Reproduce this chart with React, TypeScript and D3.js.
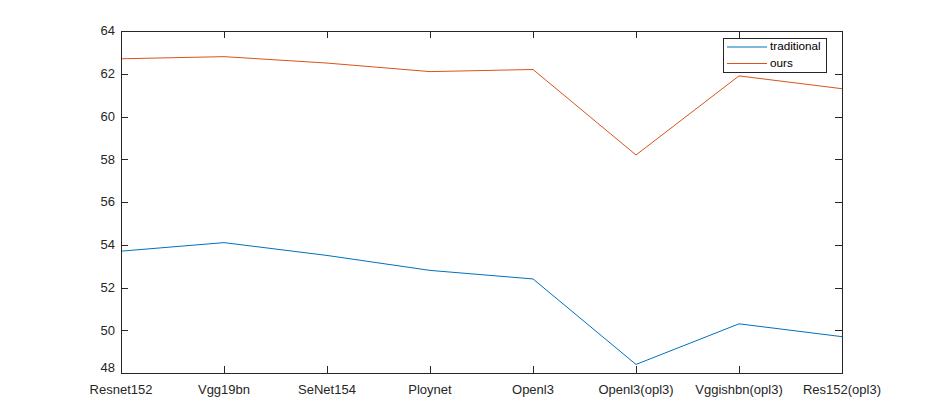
import { useRef, useEffect } from 'react';
import * as d3 from 'd3';

const categories = ['Resnet152', 'Vgg19bn', 'SeNet154', 'Ploynet', 'Openl3', 'Openl3(opl3)', 'Vggishbn(opl3)', 'Res152(opl3)'];
const traditional = [53.7, 54.1, 53.5, 52.8, 52.4, 48.4, 50.3, 49.7];
const ours = [62.7, 62.8, 62.5, 62.1, 62.2, 58.2, 61.9, 61.3];
const yTicks = [48, 50, 52, 54, 56, 58, 60, 62, 64];
const seriesNames = ['traditional', 'ours'];

const W = 931;
const H = 420;
const AX = '#262626';
const FONT = '"Liberation Sans", Arial, Helvetica, sans-serif';

const App = () => {
  const ref = useRef<SVGSVGElement>(null);

  useEffect(() => {
    document.body.style.margin = '0';
    const svg = d3.select(ref.current);
    svg.selectAll('*').remove();

    const left = 121, right = 842, top = 31, bottom = 373;

    const x = d3.scalePoint<string>().domain(categories).range([left, right]);
    const y = d3.scaleLinear().domain([48, 64]).range([bottom, top]);

    const g = svg.append('g');

    // series lines
    const line = d3.line<number>()
      .x((_, i) => x(categories[i]) as number)
      .y(d => y(d));

    const series = [
      { name: seriesNames[0], values: traditional, color: '#0072BD' },
      { name: seriesNames[1], values: ours, color: '#D95319' },
    ];

    series.forEach(s => {
      g.append('path')
        .datum(s.values)
        .attr('d', line)
        .attr('fill', 'none')
        .attr('stroke', s.color)
        .attr('stroke-width', 1);
    });

    // box
    g.append('rect')
      .attr('x', left + 0.5).attr('y', top + 0.5)
      .attr('width', right - left).attr('height', bottom - top)
      .attr('fill', 'none').attr('stroke', AX).attr('stroke-width', 1);

    const tickLen = 7;

    // x ticks (inward, bottom and top)
    categories.forEach(c => {
      const px = Math.round(x(c) as number) + 0.5;
      g.append('line').attr('x1', px).attr('x2', px)
        .attr('y1', bottom).attr('y2', bottom - tickLen)
        .attr('stroke', AX);
      g.append('line').attr('x1', px).attr('x2', px)
        .attr('y1', top).attr('y2', top + tickLen)
        .attr('stroke', AX);
      g.append('text')
        .attr('x', x(c) as number)
        .attr('y', bottom + 21)
        .attr('text-anchor', 'middle')
        .attr('font-family', FONT)
        .attr('font-size', 13)
        .attr('fill', AX)
        .text(c);
    });

    // y ticks (inward, left and right)
    yTicks.forEach(t => {
      const py = Math.round(y(t)) + 0.5;
      g.append('line').attr('x1', left).attr('x2', left + tickLen)
        .attr('y1', py).attr('y2', py).attr('stroke', AX);
      g.append('line').attr('x1', right).attr('x2', right - tickLen)
        .attr('y1', py).attr('y2', py).attr('stroke', AX);
      g.append('text')
        .attr('x', left - 6)
        .attr('y', y(t) + (t === 48 ? -4 : 1))
        .attr('text-anchor', 'end')
        .attr('dominant-baseline', 'middle')
        .attr('font-family', FONT)
        .attr('font-size', 13)
        .attr('fill', AX)
        .text(t);
    });

    // legend
    const lg = g.append('g').attr('transform', 'translate(723,38)');
    lg.append('rect')
      .attr('x', 0.5).attr('y', 0.5)
      .attr('width', 103).attr('height', 34)
      .attr('fill', '#fff').attr('stroke', AX).attr('stroke-width', 1);
    series.forEach((s, i) => {
      const ly = 9 + i * 16.5;
      lg.append('line')
        .attr('x1', 4).attr('x2', 44)
        .attr('y1', ly).attr('y2', ly)
        .attr('stroke', s.color).attr('stroke-width', 1);
      lg.append('text')
        .attr('x', 47).attr('y', ly)
        .attr('dominant-baseline', 'middle')
        .attr('font-family', FONT)
        .attr('font-size', 11.7)
        .attr('fill', '#000')
        .text(s.name);
    });
  }, []);

  return <svg ref={ref} width={W} height={H} style={{ display: 'block', background: '#fff' }}></svg>;
};

export default App;
